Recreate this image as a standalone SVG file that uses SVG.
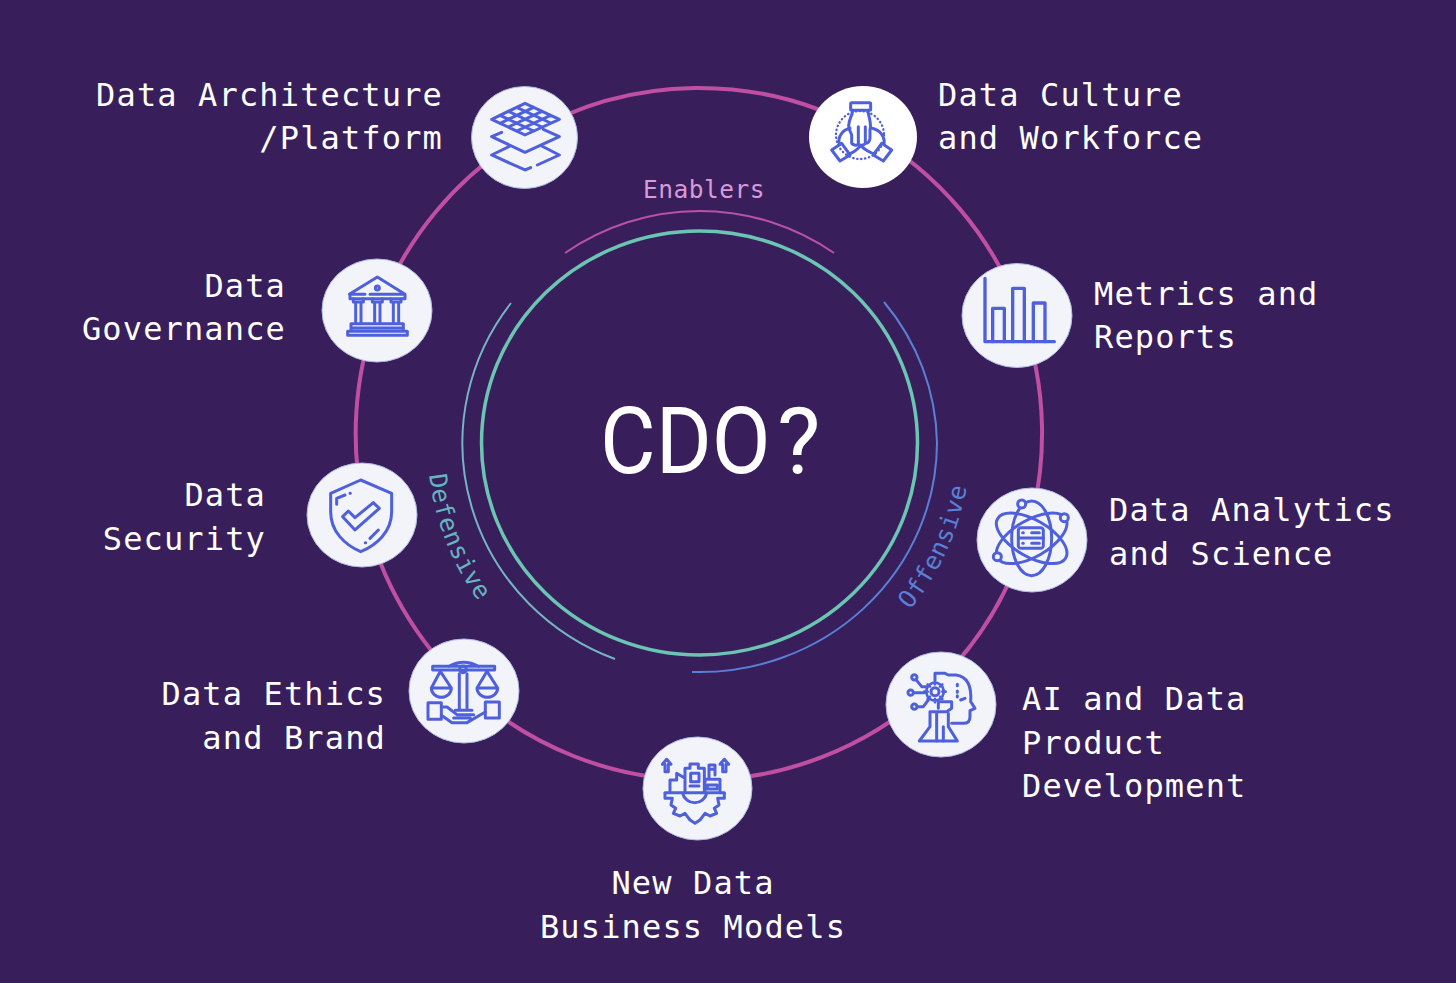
<svg xmlns="http://www.w3.org/2000/svg" width="1456" height="983" viewBox="0 0 1456 983">
<style>
.lbl{font-family:"DejaVu Sans Mono","Liberation Mono",monospace;font-size:32px;letter-spacing:1.14px;fill:#fff}
.e{text-anchor:end}
.m{text-anchor:middle}
.arcl{font-family:"DejaVu Sans Mono","Liberation Mono",monospace;font-size:24.5px;letter-spacing:.5px}
.n{fill:#f3f4f9;stroke:#aebbe6;stroke-width:1}
.ring{fill:none;stroke:#c04fa3;stroke-width:4}
.ic{fill:none;stroke:#4f60dc;stroke-width:9;stroke-linecap:round;stroke-linejoin:round}
.arc{fill:none}
</style>
<rect width="1456" height="983" fill="#381f5b"/>
<g id="connectors">
<path class="ring" d="M524.5 136A343 346 0 0 1 866 131.700"/>
<path class="ring" d="M866 131.700A343 346 0 0 1 1021 314"/>
<path class="ring" d="M1021 314A343 346 0 0 1 1026 538"/>
<path class="ring" d="M1026 538A343 346 0 0 1 929 691"/>
<path class="ring" d="M929 691A343 346 0 0 1 698 780"/>
<path class="ring" d="M698 780A343 346 0 0 1 466 688"/>
<path class="ring" d="M466 688A343 346 0 0 1 365 514"/>
<path class="ring" d="M365 514A343 346 0 0 1 378 311"/>
<path class="ring" d="M378 311A343 346 0 0 1 524.5 136"/>
</g>
<g id="center">
<ellipse cx="699.500" cy="443" rx="218" ry="212" fill="none" stroke="#6cc5b2" stroke-width="3.500"/>
<path class="arc" d="M565 253A236 236 0 0 1 834 253" stroke="#b950a9" stroke-width="2"/>
<path class="arc" d="M511 303A237 231 0 0 0 615 659" stroke="#74b4c4" stroke-width="2"/>
<path class="arc" d="M884 302A237.500 230 0 0 1 937 443A237.500 230 0 0 1 692 672" stroke="#5a80d6" stroke-width="2"/>
<text transform="translate(600 473) scale(.93 1)" font-family="Roboto,'Liberation Sans',sans-serif" font-weight="400" font-size="92" fill="#fff">CDO</text>
<text x="777" y="473" font-family="Roboto,'Liberation Sans',sans-serif" font-weight="400" font-size="92" fill="#fff">?</text>
<text class="arcl" x="704" y="198" text-anchor="middle" fill="#d99ad8">Enablers</text>
<defs>
<path id="pd" d="M429 475A272 272 0 0 0 525 651"/>
<path id="po" d="M910 610A272 272 0 0 0 971 443"/>
</defs>
<text class="arcl" fill="#66b4bd"><textPath href="#pd">Defensive</textPath></text>
<text class="arcl" fill="#5a80d6"><textPath href="#po">Offensive</textPath></text>
</g>
<g id="node-architecture">
<ellipse class="n" cx="524.500" cy="137.500" rx="53" ry="51"/>
<g class="ic" transform="translate(460 70) scale(.3333)">
<path d="M95 148L195 100L298 148L195 195ZM120 160L221 112M145 171L246 124M170 183L272 136M120 136L221 183M145 124L246 171M170 112L272 159"/>
<path d="M125 187L95 200L195 247L298 200L250 178"/>
<path d="M150 228L95 255L195 300L212 293M232 285L298 255L245 228"/>
</g>
<text class="lbl e" x="443" y="106">Data Architecture</text>
<text class="lbl e" x="443" y="149">/Platform</text>
</g>
<g id="node-culture">
<ellipse cx="863" cy="137" rx="54" ry="51" fill="#fff"/>
<g class="ic" transform="translate(800 75) scale(.3333)">
<circle cx="180" cy="180" r="72" stroke-dasharray="1 11" stroke-width="7"/>
<rect x="152" y="83" width="60" height="23" rx="3"/>
<path d="M158 106C158 122 146 132 146 152C146 165 152 170 155 180V205Q165 215 175 208V155M175 208Q188 215 196 205V155M196 205Q208 205 210 190V165C216 145 205 125 204 106"/>
<path d="M95 225L125 205L150 240L120 258Z"/>
<path d="M118 208C112 185 128 165 150 160M145 236C155 236 170 225 182 212"/>
<path d="M275 225L245 205L220 240L250 258Z"/>
<path d="M252 208C256 185 240 165 216 160M225 236C215 236 195 225 182 212"/>
</g>
<text class="lbl" x="938" y="106">Data Culture</text>
<text class="lbl" x="938" y="149">and Workforce</text>
</g>
<g id="node-metrics">
<ellipse class="n" cx="1017" cy="315.500" rx="55" ry="52"/>
<g class="ic" transform="translate(955 255) scale(.3333)">
<path d="M90 70V260H298" stroke-width="10"/>
<path d="M113 260V160H148V260M173 260V100H208V260M235 260V144H270V260" stroke-width="10"/>
</g>
<text class="lbl" x="1094" y="305">Metrics and</text>
<text class="lbl" x="1094" y="348">Reports</text>
</g>
<g id="node-analytics">
<ellipse class="n" cx="1032" cy="540" rx="55" ry="52"/>
<g class="ic" transform="translate(970 480) scale(.3333)">
<ellipse cx="185" cy="175" rx="60" ry="112"/>
<ellipse cx="185" cy="175" rx="118" ry="55" transform="rotate(30 185 175)"/>
<ellipse cx="185" cy="175" rx="118" ry="55" transform="rotate(-30 185 175)"/>
<circle cx="155" cy="72" r="12" fill="#f3f4f9"/>
<circle cx="283" cy="113" r="12" fill="#f3f4f9"/>
<circle cx="82" cy="230" r="12" fill="#f3f4f9"/>
<rect x="145" y="143" width="75" height="62" rx="8" fill="#f3f4f9"/>
<path d="M145 174H220M158 158H160M185 158H208M158 190H160M185 190H208"/>
</g>
<text class="lbl" x="1109" y="521">Data Analytics</text>
<text class="lbl" x="1109" y="565">and Science</text>
</g>
<g id="node-ai">
<ellipse class="n" cx="941" cy="704.500" rx="55" ry="52.500"/>
<g class="ic" transform="translate(880 645) scale(.3333)">
<path d="M228 90C265 95 275 130 272 170L285 190L270 197V215Q270 235 250 235H215M228 90L205 90L195 85H165V105"/>
<circle cx="165" cy="140" r="12"/>
<path d="M165 108V118M165 162V172M133 140H143M187 140H197M143 118L150 125M187 118L180 125M143 162L150 155M187 162L180 155M150 118Q165 108 180 118M150 162Q165 172 180 162M143 125Q135 140 143 155M187 125Q195 140 187 155" stroke-width="8"/>
<circle cx="103" cy="97" r="8"/><circle cx="92" cy="143" r="8"/><circle cx="103" cy="185" r="8"/>
<path d="M108 104L125 125H140M100 143H133M112 185H130L145 165"/>
<path d="M175 190V170H215V190L200 200H150V245L118 288H232L205 245V205"/>
<path d="M170 205V288M190 245V288M232 118V122M232 138V142M232 152V156M255 160L242 165"/>
</g>
<text class="lbl" x="1022" y="710">AI and Data</text>
<text class="lbl" x="1022" y="754">Product</text>
<text class="lbl" x="1022" y="797">Development</text>
</g>
<g id="node-models">
<ellipse class="n" cx="697.500" cy="788.500" rx="54.500" ry="51.500" stroke="#e8e9f3"/>
<g class="ic" transform="translate(635 730) scale(.3333)">
<path d="M82 103L95 88L108 103H100V125H90V103Z"/>
<path d="M255 103L268 88L281 103H273V125H263V103Z"/>
<path d="M90 188H268M105 188V150H125V130L150 145M150 188V115H165V102H190V115H208V188"/>
<rect x="167" y="130" width="25" height="25"/>
<path d="M165 168H192M210 188V148H255V188M222 148V105H240V135M222 118H240"/>
<rect x="217" y="165" width="30" height="12"/>
<path d="M143 190A37 37 0 0 0 215 190"/>
<path d="M90 190V205H112L108 225L122 235L115 250L135 258L150 250L165 270L180 280L195 270L210 250L225 258L245 250L238 235L252 225L248 205H268V190"/>
</g>
<text class="lbl m" x="693" y="894">New Data</text>
<text class="lbl m" x="693" y="938">Business Models</text>
</g>
<g id="node-ethics">
<ellipse class="n" cx="464" cy="691" rx="55" ry="52"/>
<g class="ic" transform="translate(402 632) scale(.3333)">
<path d="M92 103H278V114H92ZM140 103Q185 78 230 103"/>
<circle cx="183" cy="112" r="10"/>
<path d="M172 125V235M195 125V235M160 235H210"/>
<path d="M115 118L88 168H148ZM88 168A30 28 0 0 0 148 168"/>
<path d="M255 118L225 168H287ZM225 168A31 28 0 0 0 287 168"/>
<rect x="78" y="212" width="40" height="50"/>
<rect x="250" y="210" width="42" height="48"/>
<path d="M118 225H135L165 248H215M118 250Q135 262 150 272H195L250 240M155 258H205"/>
</g>
<text class="lbl e" x="386" y="705">Data Ethics</text>
<text class="lbl e" x="386" y="749">and Brand</text>
</g>
<g id="node-security">
<ellipse class="n" cx="362" cy="515" rx="55" ry="52"/>
<g class="ic" transform="translate(300 455) scale(.3333)">
<path d="M182 75L275 115V170C275 230 230 270 182 290C135 270 92 230 92 170V115Z"/>
<path d="M110 148V130L135 120M150 115H151M210 250L235 225M196 263H197"/>
<path d="M128 185L145 168L165 188L220 143L238 160L165 225Z"/>
</g>
<text class="lbl e" x="266" y="506">Data</text>
<text class="lbl e" x="266" y="550">Security</text>
</g>
<g id="node-governance">
<ellipse class="n" cx="377" cy="310.500" rx="55" ry="51.500"/>
<g class="ic" transform="translate(315 252) scale(.3333)">
<path d="M270 127L187 75L103 127H150M165 127H270V140H105V127"/>
<circle cx="187" cy="108" r="6"/>
<path d="M115 140V150H145V140M122 150V215M138 150V215M172 140V150H202V140M179 150V215M195 150V215M228 140V150H258V140M235 150V215M251 150V215M115 215H145M172 215H202M228 215H258M108 228V215H265V228M98 238H277V250H98ZM108 228H265V238H108Z"/>
</g>
<text class="lbl e" x="286" y="297">Data</text>
<text class="lbl e" x="286" y="340">Governance</text>
</g>
</svg>
